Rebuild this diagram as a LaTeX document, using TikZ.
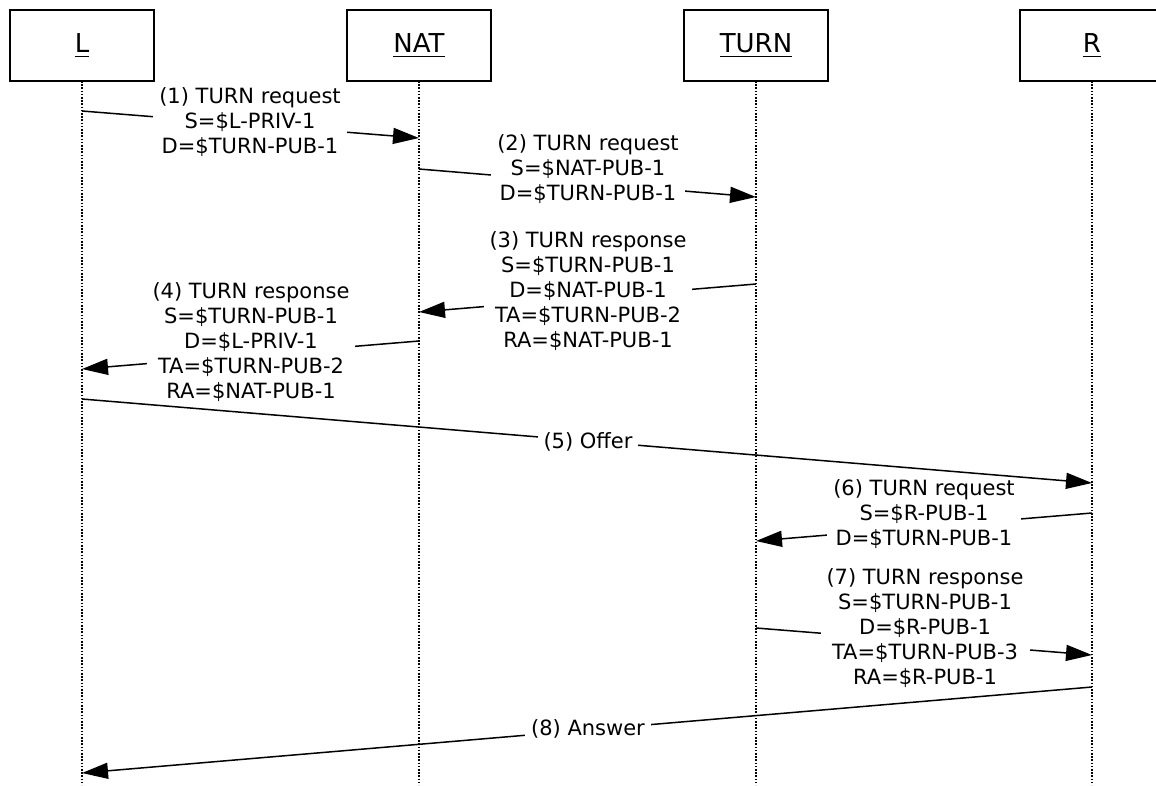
\documentclass[tikz,border=0pt]{standalone}
\usepackage{fontspec}
\setmainfont{DejaVu Sans}
\usetikzlibrary{arrows.meta}
\newcommand\actorul[1]{\setbox0\hbox{#1}\rlap{\rule[-4.75pt]{\wd0}{1.5pt}}\box0}
\begin{document}
\begin{tikzpicture}[x=1pt,y=-1pt,
  actor/.style={draw,fill=white,line width=1.5pt,minimum width=144pt,minimum height=71pt,inner sep=0pt,font=\fontsize{26}{30}\selectfont},
  life/.style={line width=1.3pt,dash pattern=on 1.6pt off 1.6pt},
  msg/.style={line width=1.5pt,-{Triangle[length=26pt,width=16pt]}},
  lbl/.style={fill=white,align=center,inner xsep=6pt,inner ysep=0pt,font=\fontsize{21}{25}\selectfont}]
\useasboundingbox (0,0) rectangle (1156,785);
% lifeline ends
\coordinate (Lb) at (82,785);
\coordinate (Nb) at (419,785);
\coordinate (Tb) at (756,785);
\coordinate (Rb) at (1092,785);
\draw[life] (82,81) -- (Lb);
\draw[life] (419,81) -- (Nb);
\draw[life] (756,81) -- (Tb);
\draw[life] (1092,81) -- (Rb);
% actors
\node[actor] (L) at (82,45.5) {\actorul{L}};
\node[actor] (NAT) at (419,45.5) {\actorul{NAT}};
\node[actor] (TURN) at (756,45.5) {\actorul{TURN}};
\node[actor] (R) at (1092,45.5) {\actorul{R}};
% message end points
\coordinate (m1s) at (82,111);   \coordinate (m1e) at (419,138);
\coordinate (m2s) at (419,169);  \coordinate (m2e) at (756,197);
\coordinate (m3s) at (756,284);  \coordinate (m3e) at (419,312);
\coordinate (m4s) at (419,341);  \coordinate (m4e) at (82,369);
\coordinate (m5s) at (82,399);   \coordinate (m5e) at (1092,483);
\coordinate (m6s) at (1092,513); \coordinate (m6e) at (756,541);
\coordinate (m7s) at (756,628);  \coordinate (m7e) at (1092,655);
\coordinate (m8s) at (1092,687); \coordinate (m8e) at (82,773);
% messages
\draw[msg] (m1s) -- (m1e);
\node[lbl] (l1) at (250,122) {(1) TURN request\\S=\$L-PRIV-1\\D=\$TURN-PUB-1};
\draw[msg] (m2s) -- (m2e);
\node[lbl] (l2) at (588,169) {(2) TURN request\\S=\$NAT-PUB-1\\D=\$TURN-PUB-1};
\draw[msg] (m3s) -- (m3e);
\node[lbl] (l3) at (588,291) {(3) TURN response\\S=\$TURN-PUB-1\\D=\$NAT-PUB-1\\TA=\$TURN-PUB-2\\RA=\$NAT-PUB-1};
\draw[msg] (m4s) -- (m4e);
\node[lbl] (l4) at (251,342) {(4) TURN response\\S=\$TURN-PUB-1\\D=\$L-PRIV-1\\TA=\$TURN-PUB-2\\RA=\$NAT-PUB-1};
\draw[msg] (m6s) -- (m6e);
\node[lbl] (l6) at (924,514) {(6) TURN request\\S=\$R-PUB-1\\D=\$TURN-PUB-1};
\draw[msg] (m7s) -- (m7e);
\node[lbl] (l7) at (925,628) {(7) TURN response\\S=\$TURN-PUB-1\\D=\$R-PUB-1\\TA=\$TURN-PUB-3\\RA=\$R-PUB-1};
\draw[msg] (m5s) -- (m5e);
\node[lbl] (l5) at (588,442) {(5) Offer};
\draw[msg] (m8s) -- (m8e);
\node[lbl] (l8) at (588,729) {(8) Answer};
\end{tikzpicture}
\end{document}
